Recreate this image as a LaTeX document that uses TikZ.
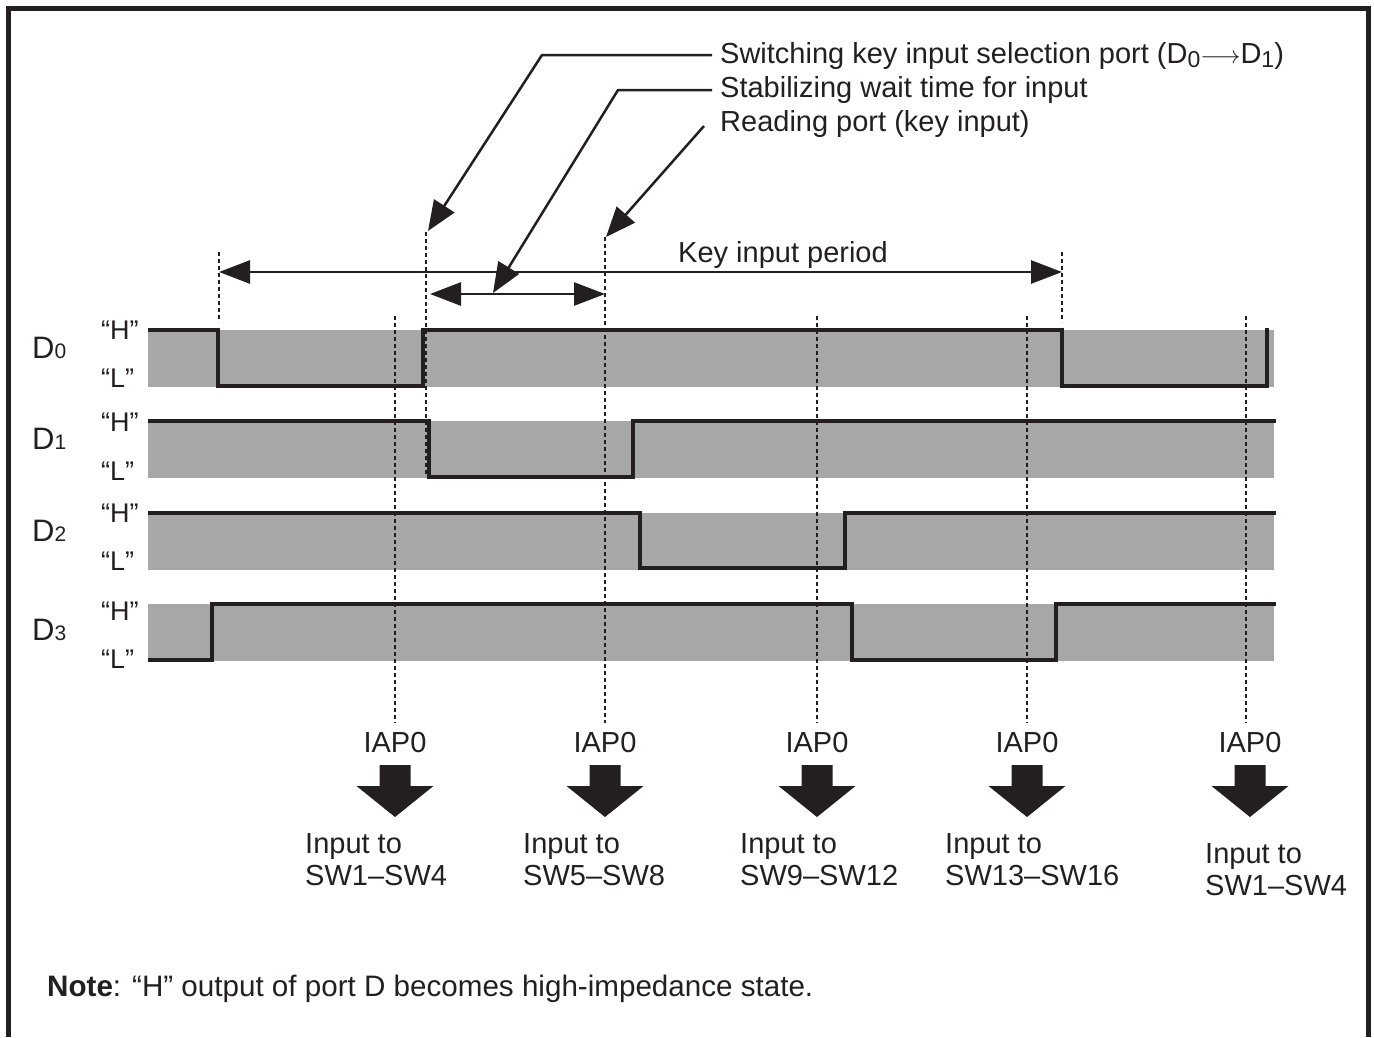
\documentclass[tikz,border=0pt]{standalone}
\usepackage{fontspec}
\setmainfont{Liberation Sans}
\usetikzlibrary{arrows.meta}
\definecolor{ink}{HTML}{231F20}
\definecolor{bandgray}{HTML}{A7A7A7}
\newcommand{\lowdig}[1]{\raisebox{-4pt}{\fontsize{23}{24}\selectfont #1}}
\begin{document}
\begin{tikzpicture}[x=1pt,y=-1pt,
  txt/.style={inner sep=0pt, font=\fontsize{29}{34}\selectfont, text=ink},
  lvl/.style={inner sep=0pt, font=\fontsize{27}{30}\selectfont, text=ink, anchor=base west},
  dlab/.style={inner sep=0pt, font=\fontsize{31}{34}\selectfont, text=ink, anchor=base west},
  sig/.style={draw=ink, line width=4.4pt},
  dotl/.style={draw=ink, line width=2.3pt, dash pattern=on 4pt off 3pt},
  dimline/.style={draw=ink, line width=2.8pt, {Triangle[length=31pt,width=23pt]}-{Triangle[length=31pt,width=23pt]}},
  lead/.style={draw=ink, line width=2.5pt, -{Triangle[length=30pt,width=24pt]}},
  bigdown/.pic={\fill[ink] (-15.5,0) -- (15.5,0) -- (15.5,21) -- (38.5,21) -- (0,52) -- (-38.5,21) -- (-15.5,21) -- cycle;}
]
\useasboundingbox (0,0) rectangle (1374,1037);
% frame
\draw[ink, line width=5pt] (8.5,1037) -- (8.5,8.5) -- (1368.5,8.5) -- (1368.5,1037);

% bands
\foreach \t in {330,421,513,604}{
  \fill[bandgray] (148,\t) rectangle (1274,\t+57);
}

% dotted guide lines
\coordinate (k1a) at (219,252); \coordinate (k1b) at (219,322);
\coordinate (k2a) at (1062,252); \coordinate (k2b) at (1062,322);
\coordinate (s1a) at (426,232); \coordinate (s1b) at (426,476);
\coordinate (s2a) at (605,237); \coordinate (s2b) at (605,723);
\draw[dotl] (k1a) -- (k1b);
\draw[dotl] (k2a) -- (k2b);
\draw[dotl] (s1a) -- (s1b);
\draw[dotl] (s2a) -- (s2b);
\foreach \x/\n in {395/a,817/b,1027/c,1246/d}{
  \coordinate (r\n1) at (\x,316); \coordinate (r\n2) at (\x,723);
  \draw[dotl] (r\n1) -- (r\n2);
}

% signals
\draw[sig] (148,330) -- (218,330) -- (218,386) -- (423,386) -- (423,330) -- (1062,330) -- (1062,386) -- (1267,386) -- (1267,328);
\draw[sig] (148,421) -- (429,421) -- (429,477) -- (633,477) -- (633,421) -- (1276,421);
\draw[sig] (148,513) -- (640,513) -- (640,568) -- (845,568) -- (845,513) -- (1276,513);
\draw[sig] (148,660) -- (212,660) -- (212,604) -- (852,604) -- (852,660) -- (1056,660) -- (1056,604) -- (1276,604);

% dimension arrows
\coordinate (kp1) at (219,272); \coordinate (kp2) at (1062,272);
\draw[dimline] (kp1) -- (kp2);
\coordinate (sw1) at (430,294); \coordinate (sw2) at (605,294);
\draw[dimline] (sw1) -- (sw2);
\node[txt, anchor=base west] (kip) at (678,262) {Key input period};

% leader labels
\node[txt, anchor=base west] (t1) at (720,63) {Switching key input selection port (D\lowdig{0}$\longrightarrow$D\lowdig{1})};
\node[txt, anchor=base west] (t2) at (720,97) {Stabilizing wait time for input};
\node[txt, anchor=base west] (t3) at (720,131) {Reading port (key input)};
\coordinate (l1s) at (712,55); \coordinate (l1m) at (542,55); \coordinate (l1e) at (428,231);
\coordinate (l2s) at (712,90); \coordinate (l2m) at (618,90); \coordinate (l2e) at (493,293);
\coordinate (l3s) at (704,126); \coordinate (l3e) at (606,237);
\draw[lead] (l1s) -- (l1m) -- (l1e);
\draw[lead] (l2s) -- (l2m) -- (l2e);
\draw[lead] (l3s) -- (l3e);

% row labels
\node[dlab] (d0) at (32,358) {D{\fontsize{21}{22}\selectfont 0}};
\node[dlab] (d1) at (32,449) {D{\fontsize{21}{22}\selectfont 1}};
\node[dlab] (d2) at (32,541) {D{\fontsize{21}{22}\selectfont 2}};
\node[dlab] (d3) at (32,640) {D{\fontsize{21}{22}\selectfont 3}};
\node[lvl] (h0) at (101,339) {“H”};
\node[lvl] (lo0) at (101,387) {“L”};
\node[lvl] (h1) at (101,431) {“H”};
\node[lvl] (lo1) at (101,480) {“L”};
\node[lvl] (h2) at (101,522) {“H”};
\node[lvl] (lo2) at (101,570) {“L”};
\node[lvl] (h3) at (101,620) {“H”};
\node[lvl] (lo3) at (101,668) {“L”};

% IAP0 and big arrows
\foreach \x/\n in {395/a,605/b,817/c,1027/d,1250/e}{
  \node[txt, anchor=base] (iap\n) at (\x,752) {IAP0};
  \pic at (\x,765) {bigdown};
}
\node[txt, anchor=base west] (ina1) at (305,853) {Input to};
\node[txt, anchor=base west] (ina2) at (305,885) {SW1–SW4};
\node[txt, anchor=base west] (inb1) at (523,853) {Input to};
\node[txt, anchor=base west] (inb2) at (523,885) {SW5–SW8};
\node[txt, anchor=base west] (inc1) at (740,853) {Input to};
\node[txt, anchor=base west] (inc2) at (740,885) {SW9–SW12};
\node[txt, anchor=base west] (ind1) at (945,853) {Input to};
\node[txt, anchor=base west] (ind2) at (945,885) {SW13–SW16};
\node[txt, anchor=base west] (ine1) at (1205,863) {Input to};
\node[txt, anchor=base west] (ine2) at (1205,895) {SW1–SW4};

% note
\node[txt, anchor=base west, font=\fontsize{29.6}{34}\selectfont] (note) at (47,996) {\textbf{Note}: “H” output of port D becomes high-impedance state.};
\end{tikzpicture}
\end{document}
